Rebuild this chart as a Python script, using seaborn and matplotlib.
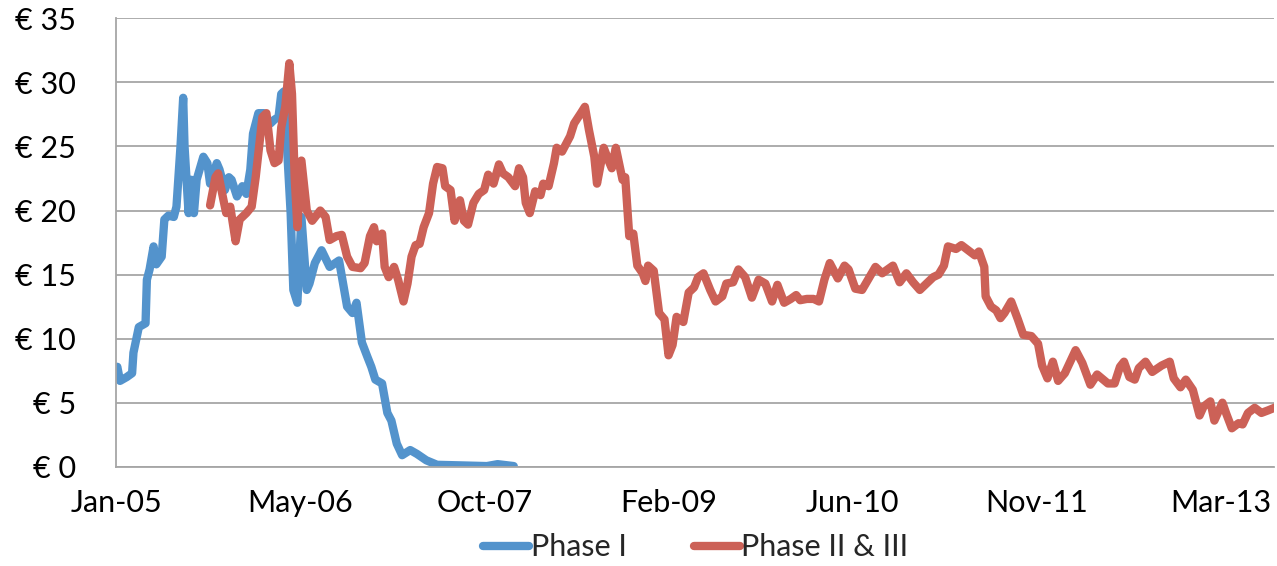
import numpy as np
import pandas as pd
import seaborn as sns
import matplotlib.pyplot as plt
import matplotlib.dates as mdates


# time in decimal years, price in EUR
phase1_years = [2005.02, 2005.04, 2005.09, 2005.13, 2005.14, 2005.18, 2005.23, 2005.24, 2005.26, 2005.29,
                2005.31, 2005.35, 2005.37, 2005.40, 2005.44, 2005.46, 2005.49, 2005.51, 2005.52, 2005.55,
                2005.57, 2005.59, 2005.61, 2005.66, 2005.69, 2005.71, 2005.76, 2005.78, 2005.82, 2005.85,
                2005.87, 2005.91, 2005.95, 2005.98, 2006.01, 2006.03, 2006.07, 2006.11, 2006.16, 2006.19,
                2006.22, 2006.24, 2006.26, 2006.31, 2006.33, 2006.36, 2006.39, 2006.43, 2006.45, 2006.49,
                2006.54, 2006.60, 2006.67, 2006.70, 2006.73, 2006.77, 2006.80, 2006.84, 2006.88, 2006.91,
                2006.94, 2006.99, 2007.03, 2007.06, 2007.10, 2007.14, 2007.20, 2007.25, 2007.32, 2007.40,
                2007.59, 2007.77, 2007.85, 2007.97]
phase1_price = [7.8, 6.7, 7.0, 7.3, 8.9, 10.9, 11.2, 14.6, 15.4, 17.2,
                15.8, 16.4, 19.3, 19.6, 19.5, 20.3, 25.0, 28.8, 25.0, 19.8,
                22.4, 19.8, 22.4, 24.2, 23.7, 22.1, 23.7, 23.2, 21.6, 22.6,
                22.4, 21.1, 21.9, 21.3, 23.2, 26.0, 27.6, 27.6, 26.8, 27.1,
                27.3, 29.1, 29.3, 19.8, 13.8, 12.8, 19.5, 13.8, 14.3, 15.9,
                16.9, 15.6, 16.1, 14.3, 12.5, 12.0, 12.8, 9.7, 8.6, 7.8,
                6.8, 6.5, 4.2, 3.6, 1.8, 0.9, 1.3, 1.0, 0.5, 0.15,
                0.1, 0.05, 0.2, 0.05]

phase2_years = [2005.71, 2005.75, 2005.77, 2005.81, 2005.83, 2005.86, 2005.90, 2005.93, 2005.98, 2006.02,
                2006.05, 2006.07, 2006.10, 2006.13, 2006.16, 2006.19, 2006.22, 2006.24, 2006.27, 2006.30,
                2006.32, 2006.34, 2006.36, 2006.39, 2006.43, 2006.47, 2006.53, 2006.57, 2006.60, 2006.65,
                2006.69, 2006.73, 2006.77, 2006.83, 2006.86, 2006.90, 2006.93, 2006.95, 2006.99, 2007.01,
                2007.04, 2007.08, 2007.11, 2007.15, 2007.18, 2007.21, 2007.24, 2007.27, 2007.30, 2007.34,
                2007.37, 2007.40, 2007.44, 2007.46, 2007.50, 2007.53, 2007.57, 2007.60, 2007.63, 2007.67,
                2007.71, 2007.75, 2007.78, 2007.82, 2007.86, 2007.89, 2007.93, 2007.98, 2008.01, 2008.04,
                2008.06, 2008.09, 2008.13, 2008.17, 2008.19, 2008.23, 2008.27, 2008.29, 2008.33, 2008.35,
                2008.39, 2008.42, 2008.47, 2008.50, 2008.53, 2008.57, 2008.59, 2008.61, 2008.64, 2008.68,
                2008.70, 2008.73, 2008.75, 2008.78, 2008.80, 2008.83, 2008.86, 2008.89, 2008.93, 2008.95,
                2008.97, 2009.01, 2009.05, 2009.09, 2009.12, 2009.15, 2009.18, 2009.23, 2009.27, 2009.31,
                2009.34, 2009.38, 2009.43, 2009.47, 2009.52, 2009.55, 2009.60, 2009.64, 2009.69, 2009.74,
                2009.79, 2009.84, 2009.89, 2009.93, 2009.98, 2010.03, 2010.07, 2010.10, 2010.15, 2010.20,
                2010.24, 2010.28, 2010.32, 2010.38, 2010.43, 2010.46, 2010.51, 2010.56, 2010.61, 2010.66,
                2010.71, 2010.79, 2010.84, 2010.89, 2010.94, 2010.99, 2011.04, 2011.09, 2011.13, 2011.17,
                2011.20, 2011.26, 2011.30, 2011.35, 2011.40, 2011.43, 2011.47, 2011.48, 2011.52, 2011.56,
                2011.59, 2011.62, 2011.67, 2011.72, 2011.76, 2011.82, 2011.87, 2011.90, 2011.94, 2011.98,
                2012.02, 2012.07, 2012.15, 2012.20, 2012.26, 2012.31, 2012.39, 2012.44, 2012.48, 2012.51,
                2012.55, 2012.59, 2012.62, 2012.67, 2012.72, 2012.79, 2012.85, 2012.88, 2012.93, 2012.97,
                2013.02, 2013.07, 2013.10, 2013.15, 2013.18, 2013.24, 2013.27, 2013.31, 2013.36, 2013.39,
                2013.43, 2013.48, 2013.53, 2013.58, 2013.65]
phase2_price = [20.4, 22.6, 22.9, 20.8, 19.8, 20.3, 17.6, 19.3, 19.8, 20.3,
                22.6, 24.5, 27.3, 27.6, 24.7, 23.7, 23.9, 26.5, 28.1, 31.5,
                29.1, 22.6, 18.7, 23.9, 20.0, 19.2, 20.0, 19.5, 17.7, 18.0,
                18.1, 16.4, 15.6, 15.5, 15.9, 18.0, 18.7, 17.6, 18.2, 15.6,
                14.8, 15.6, 14.6, 12.9, 14.3, 16.4, 17.3, 17.4, 18.7, 19.8,
                22.1, 23.4, 23.3, 21.9, 21.6, 19.2, 20.8, 19.2, 18.9, 20.6,
                21.3, 21.6, 22.8, 22.1, 23.6, 22.9, 22.6, 21.9, 23.3, 22.6,
                20.6, 19.8, 21.5, 21.2, 22.1, 21.9, 23.7, 24.9, 24.6, 25.0,
                25.8, 26.8, 27.6, 28.1, 26.3, 24.2, 22.1, 23.2, 24.9, 23.8,
                23.3, 24.9, 23.9, 22.4, 22.6, 18.0, 18.2, 15.7, 15.1, 14.5,
                15.7, 15.3, 12.0, 11.5, 8.7, 9.5, 11.7, 11.3, 13.6, 14.0,
                14.8, 15.1, 13.8, 12.9, 13.3, 14.3, 14.4, 15.4, 14.8, 13.2,
                14.6, 14.3, 12.9, 14.2, 12.8, 13.1, 13.4, 13.0, 13.1, 13.1,
                12.9, 14.6, 15.9, 14.7, 15.7, 15.4, 13.9, 13.8, 14.7, 15.6,
                15.1, 15.7, 14.4, 15.1, 14.4, 13.8, 14.3, 14.8, 15.0, 15.7,
                17.2, 17.0, 17.3, 16.9, 16.5, 16.8, 15.6, 13.3, 12.5, 12.2,
                11.6, 12.0, 12.9, 11.5, 10.3, 10.2, 9.6, 7.9, 6.9, 8.2,
                6.7, 7.3, 9.1, 8.1, 6.4, 7.2, 6.5, 6.5, 7.8, 8.2,
                7.0, 6.8, 7.7, 8.2, 7.4, 7.9, 8.2, 6.9, 6.2, 6.8,
                6.0, 4.0, 4.7, 5.1, 3.6, 5.0, 4.1, 3.0, 3.4, 3.3,
                4.2, 4.6, 4.2, 4.4, 4.7]

series_names = ['Phase I', 'Phase II & III']
colors = ['#5393CC', '#CC6157']
y_ticks = [0, 5, 10, 15, 20, 25, 30, 35]


def to_dates(years):
    years = np.array(years)
    start = pd.to_datetime((np.floor(years)).astype(int).astype(str) + '-01-01')
    return start + pd.to_timedelta((years - np.floor(years)) * 365.25, unit='D')


df = pd.concat([
    pd.DataFrame({'date': to_dates(phase1_years), 'price': phase1_price, 'series': series_names[0]}),
    pd.DataFrame({'date': to_dates(phase2_years), 'price': phase2_price, 'series': series_names[1]}),
])

sns.set_style('white')
plt.rcParams['font.family'] = ['Lato', 'DejaVu Sans']

fig = plt.figure(figsize=(12.77, 5.66), dpi=100)
ax = fig.add_axes([0.0912, 0.1754, 0.9068, 0.7921])

sns.lineplot(data=df, x='date', y='price', hue='series', palette=colors, estimator=None,
             linewidth=6, solid_capstyle='round', solid_joinstyle='round', ax=ax, legend=True)

start = pd.Timestamp('2005-01-06')
ax.set_xlim(start, pd.Timestamp('2013-08-18'))
ax.set_ylim(0, 35)
ax.set_xticks([start + pd.Timedelta(days=500 * i) for i in range(7)])
ax.xaxis.set_major_formatter(mdates.DateFormatter('%b-%y'))
ax.set_yticks(y_ticks)
ax.set_yticklabels([f'€ {v}' for v in y_ticks])

ax.yaxis.grid(True, color='#a6a6a6', linewidth=1.3)
ax.set_axisbelow(True)
for side in ['top', 'right']:
    ax.spines[side].set_visible(False)
for side in ['left', 'bottom']:
    ax.spines[side].set_color('#a6a6a6')
    ax.spines[side].set_linewidth(1.3)
ax.tick_params(axis='both', which='both', direction='out', length=7, width=1.3,
               color='#a6a6a6', labelsize=22, labelcolor='black')
ax.tick_params(axis='x', pad=9)
ax.tick_params(axis='y', pad=22)
ax.set_xlabel('')
ax.set_ylabel('')

handles, labels = ax.get_legend_handles_labels()
for h in handles:
    h.set_linewidth(6)
    h.set_solid_capstyle('round')
ax.legend(handles, labels, loc='center', bbox_to_anchor=(0.545, 0.033), bbox_transform=fig.transFigure,
          ncol=2, frameon=False, fontsize=22, handlelength=1.5, handletextpad=0.05, columnspacing=2.2)

fig.savefig('out.png', dpi=100)
